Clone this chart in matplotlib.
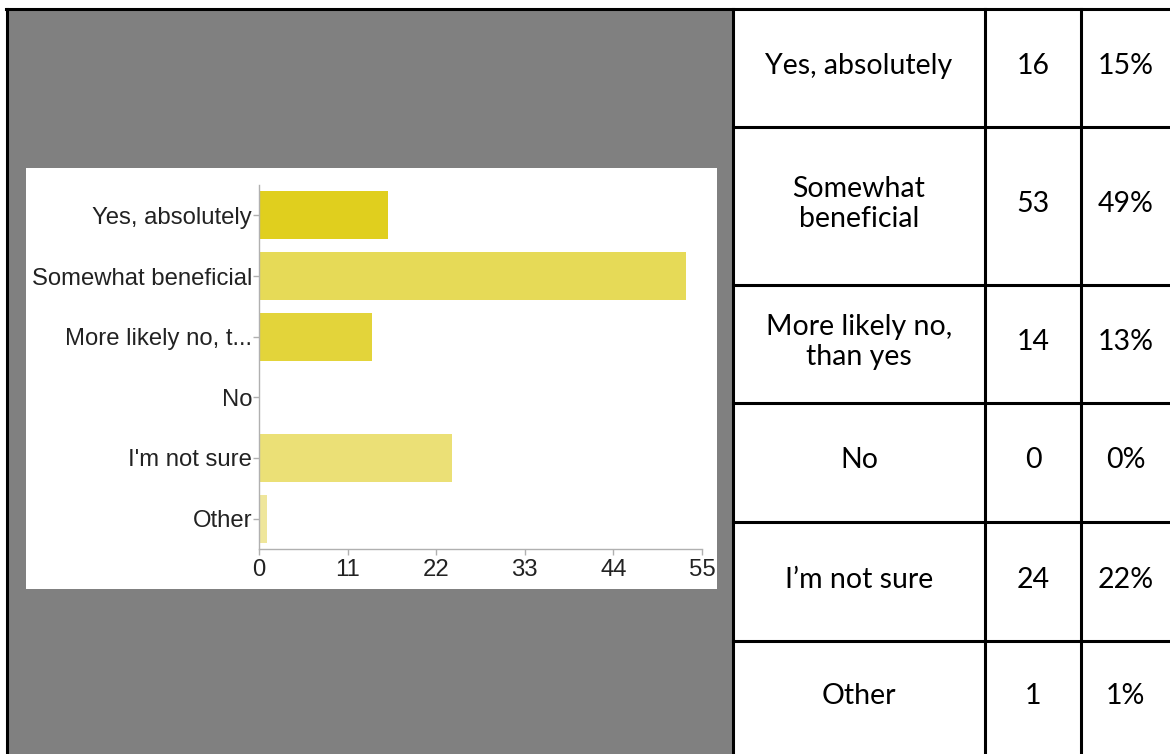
import matplotlib.pyplot as plt
from matplotlib.patches import Rectangle
from matplotlib.lines import Line2D

# ==========================
# DATA
# ==========================
chart_labels = ["Yes, absolutely", "Somewhat beneficial", "More likely no, t...",
                "No", "I'm not sure", "Other"]
counts = [16, 53, 14, 0, 24, 1]
bar_colors = ["#e0cf1e", "#e6da57", "#e3d43a", "#e6da57", "#ebe076", "#efe69b"]
x_ticks = [0, 11, 22, 33, 44, 55]

table_labels = ["Yes, absolutely", "Somewhat\nbeneficial", "More likely no,\nthan yes",
                "No", "I\u2019m not sure", "Other"]
percents = ["15%", "49%", "13%", "0%", "22%", "1%"]

# ==========================
# LAYOUT (pixels)
# ==========================
W, H = 1170, 754
fig = plt.figure(figsize=(W / 100, H / 100), dpi=100)
fig.patch.set_facecolor("white")


def fx(px):
    return px / W


def fy(py):
    return 1 - py / H


# gray backdrop
fig.add_artist(Rectangle((fx(7), 0), fx(733) - fx(7), fy(9), transform=fig.transFigure,
                         facecolor="#808080", edgecolor="none", zorder=0))
# white panel behind the chart
fig.add_artist(Rectangle((fx(26), fy(589)), fx(717) - fx(26), fy(168) - fy(589),
                         transform=fig.transFigure, facecolor="white", edgecolor="none", zorder=1))

# table grid lines
row_edges = [9, 127, 285, 403, 522, 641, H]
col_edges = [733, 985, 1081]
fig.add_artist(Line2D([fx(6), 1], [fy(9), fy(9)], color="black", lw=2.2, zorder=5))
for y in row_edges[1:-1]:
    fig.add_artist(Line2D([fx(733), 1], [fy(y), fy(y)], color="black", lw=2.2, zorder=5))
fig.add_artist(Line2D([fx(7), fx(7)], [0, fy(9)], color="black", lw=2.2, zorder=5))
for x in col_edges:
    fig.add_artist(Line2D([fx(x), fx(x)], [0, fy(9)], color="black", lw=2.2, zorder=5))

# table text
col_centers = [(733 + 985) / 2, (985 + 1081) / 2, (1081 + W) / 2]
for i in range(len(table_labels)):
    yc = (row_edges[i] + row_edges[i + 1]) / 2
    fig.text(fx(col_centers[0]), fy(yc - 2), table_labels[i], ha="center", va="center",
             fontsize=20.5, family="Lato", linespacing=1.15, zorder=6)
    fig.text(fx(col_centers[1]), fy(yc - 2), str(counts[i]), ha="center", va="center",
             fontsize=20.5, family="Lato", zorder=6)
    fig.text(fx(col_centers[2]), fy(yc - 2), percents[i], ha="center", va="center",
             fontsize=20.5, family="Lato", zorder=6)

# ==========================
# BAR CHART
# ==========================
ax = fig.add_axes([fx(259), fy(549), fx(702) - fx(259), fy(185) - fy(549)], zorder=3)
ax.set_facecolor("none")
ypos = list(range(len(chart_labels)))
ax.barh(ypos, counts, height=0.79, color=bar_colors, edgecolor="none")
ax.set_ylim(len(chart_labels) - 0.5, -0.5)
ax.set_xlim(0, 55)
ax.set_xticks(x_ticks)
ax.set_yticks(ypos)
ax.set_yticklabels(chart_labels)
for s in ["top", "right"]:
    ax.spines[s].set_visible(False)
for s in ["left", "bottom"]:
    ax.spines[s].set_color("#b0b0b0")
    ax.spines[s].set_linewidth(1)
ax.tick_params(axis="both", colors="#b0b0b0", labelcolor="#222222", length=4, width=1,
               labelsize=17.2, pad=1)
ax.tick_params(axis="x", pad=3)
for lab in ax.get_xticklabels() + ax.get_yticklabels():
    lab.set_family("Liberation Sans")

plt.savefig("out.png", dpi=100)
